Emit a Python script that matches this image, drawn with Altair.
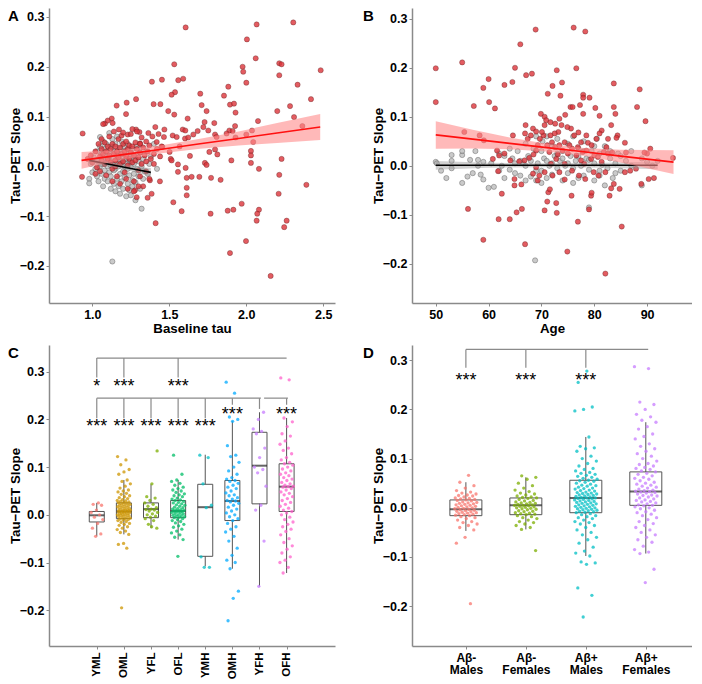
import altair as alt
import pandas as pd

# ---------------- data ----------------
# Panel A: baseline tau vs tau-PET slope
a_red = [
    (0.937, 0.066), (0.933, -0.021), (1.606, 0.279), (2.004, 0.255), (2.067, 0.285), (2.305, 0.289),
    (1.532, 0.205), (2.061, 0.217), (1.976, 0.200), (1.980, 0.190), (2.214, 0.207), (2.229, 0.205),
    (2.483, 0.193), (2.214, 0.183), (2.000, 0.168), (2.333, 0.164), (1.387, 0.170), (1.452, 0.174),
    (1.558, 0.173), (1.590, 0.176), (1.883, 0.160), (1.701, 0.146), (1.537, 0.149), (1.515, 0.144),
    (1.855, 0.142), (2.420, 0.135), (1.284, 0.135), (1.158, 0.122), (1.223, 0.128), (1.398, 0.125),
    (1.442, 0.125), (1.710, 0.123), (1.894, 0.124), (1.920, 0.126), (2.284, 0.121), (1.126, 0.096),
    (1.219, 0.105), (1.493, 0.111), (1.532, 0.104), (1.742, 0.111), (1.930, 0.108), (2.201, 0.111),
    (2.310, 0.099), (1.082, 0.086), (1.132, 0.087), (1.619, 0.096), (1.729, 0.089), (1.792, 0.087),
    (2.076, 0.091), (1.721, 0.079), (1.927, 0.081), (2.364, 0.081), (1.173, 0.074), (1.284, 0.074),
    (1.409, 0.079), (1.468, 0.074), (1.587, 0.074), (1.604, 0.072), (1.684, 0.071), (1.753, 0.072),
    (1.890, 0.072), (1.911, 0.071), (2.037, 0.072), (1.364, 0.067), (1.306, 0.069), (1.230, 0.064),
    (1.656, 0.064), (1.797, 0.064), (1.872, 0.066), (2.000, 0.064), (1.465, 0.059), (1.522, 0.062),
    (1.548, 0.059), (1.602, 0.056), (1.623, 0.058), (1.807, 0.059), (1.930, 0.058), (2.045, 0.049),
    (1.418, 0.049), (1.310, 0.046), (1.455, 0.039), (1.502, 0.029), (1.567, 0.040), (1.760, 0.029),
    (1.797, 0.034), (1.812, 0.024), (2.030, 0.031), (2.030, 0.022), (1.634, 0.021), (1.509, 0.015),
    (1.515, 0.012), (1.731, 0.007), (1.742, 0.003), (1.903, 0.012), (2.030, 0.007), (2.229, 0.015),
    (1.556, 0.004), (1.606, -0.003), (1.556, -0.011), (2.082, -0.005), (2.214, -0.017), (1.613, -0.023),
    (1.645, -0.021), (1.695, -0.021), (1.771, -0.023), (1.833, -0.027), (1.374, -0.028), (1.439, -0.030),
    (1.613, -0.043), (1.613, -0.058), (1.385, -0.055), (1.359, -0.063), (2.210, -0.055), (2.390, -0.037),
    (1.526, -0.072), (1.970, -0.075), (1.580, -0.090), (1.768, -0.095), (1.879, -0.089), (1.916, -0.087),
    (2.082, -0.087), (2.071, -0.095), (2.067, -0.109), (2.262, -0.109), (2.246, -0.122), (1.411, -0.114),
    (1.998, -0.150), (1.894, -0.174), (2.158, -0.220), (1.277, -0.048), (1.288, -0.062),
    (0.97, 0.015), (0.99, 0.022), (1.00, 0.008), (1.02, 0.030), (1.03, -0.002), (1.04, 0.045),
    (1.05, 0.020), (1.05, -0.010), (1.06, 0.035), (1.06, 0.012), (1.07, 0.085), (1.07, 0.025),
    (1.08, 0.005), (1.08, 0.048), (1.09, 0.030), (1.09, -0.018), (1.10, 0.015), (1.10, 0.040),
    (1.11, 0.060), (1.11, 0.022), (1.12, 0.008), (1.12, 0.035), (1.13, 0.045), (1.13, -0.005),
    (1.14, 0.025), (1.14, 0.070), (1.15, 0.012), (1.15, 0.040), (1.16, 0.030), (1.16, -0.020),
    (1.17, 0.055), (1.17, 0.018), (1.18, 0.005), (1.18, 0.038), (1.19, 0.025), (1.19, 0.062),
    (1.20, 0.010), (1.20, 0.045), (1.21, 0.030), (1.21, -0.012), (1.22, 0.020), (1.22, 0.050),
    (1.23, 0.035), (1.23, 0.002), (1.24, 0.042), (1.24, 0.015), (1.25, 0.028), (1.25, 0.065),
    (1.26, 0.008), (1.26, 0.040), (1.27, 0.022), (1.27, -0.030), (1.28, 0.048), (1.28, 0.012),
    (1.29, 0.035), (1.29, 0.070), (1.30, 0.018), (1.30, -0.008), (1.31, 0.045), (1.31, 0.028),
    (1.32, 0.005), (1.32, 0.058), (1.33, 0.038), (1.33, -0.040), (1.34, 0.022), (1.35, 0.050),
    (1.35, 0.010), (1.36, 0.030), (1.37, -0.025), (1.37, 0.042), (1.38, 0.015), (1.39, 0.060),
    (1.40, 0.025), (1.40, 0.005), (1.42, 0.035), (1.43, 0.065), (1.44, 0.020), (1.45, 0.040),
    (1.10, 0.092), (1.20, 0.068), (1.26, 0.075), (1.13, -0.030), (1.18, -0.035), (1.23, -0.045),
    (1.27, -0.050), (1.30, -0.040), (1.02, -0.015), (1.15, 0.000), (1.06, 0.055), (1.22, -0.025),
    (1.31, -0.020), (1.35, -0.010),
]
a_gray = [
    (0.98, -0.025), (0.98, -0.034), (0.99, 0.005), (1.00, -0.012), (1.01, 0.018), (1.02, -0.005),
    (1.03, 0.030), (1.03, -0.020), (1.04, 0.010), (1.04, -0.030), (1.05, 0.059), (1.05, 0.000),
    (1.05, 0.040), (1.06, -0.015), (1.06, 0.025), (1.07, 0.050), (1.07, -0.040), (1.07, 0.005),
    (1.08, 0.035), (1.08, -0.008), (1.08, -0.025), (1.09, 0.015), (1.09, 0.045), (1.10, -0.030),
    (1.10, 0.000), (1.10, 0.028), (1.11, 0.067), (1.11, -0.012), (1.11, 0.012), (1.12, 0.040),
    (1.12, -0.045), (1.12, -0.020), (1.13, 0.055), (1.13, 0.005), (1.13, -0.191), (1.14, 0.030),
    (1.14, -0.035), (1.14, 0.018), (1.15, -0.005), (1.15, 0.045), (1.15, -0.050), (1.16, 0.010),
    (1.16, -0.025), (1.16, 0.060), (1.17, 0.025), (1.17, -0.040), (1.17, 0.000), (1.18, -0.015),
    (1.18, 0.035), (1.18, -0.055), (1.19, 0.008), (1.19, 0.050), (1.19, -0.030), (1.20, 0.020),
    (1.20, -0.010), (1.20, -0.045), (1.21, 0.040), (1.21, 0.000), (1.21, -0.022), (1.22, 0.015),
    (1.22, -0.060), (1.22, 0.030), (1.23, -0.005), (1.23, -0.035), (1.23, 0.045), (1.24, 0.010),
    (1.24, -0.018), (1.24, -0.048), (1.25, 0.025), (1.25, -0.058), (1.25, 0.000), (1.26, -0.028),
    (1.26, 0.035), (1.26, -0.040), (1.27, 0.005), (1.27, -0.015), (1.28, -0.068), (1.28, 0.020),
    (1.28, -0.032), (1.29, -0.005), (1.29, 0.040), (1.30, -0.020), (1.30, 0.010), (1.31, -0.045),
    (1.31, 0.028), (1.32, -0.085), (1.32, 0.000), (1.33, -0.025), (1.33, 0.015), (1.34, -0.010),
    (1.35, 0.030), (1.36, -0.015), (1.37, 0.005), (1.38, 0.020), (1.40, 0.045), (1.42, -0.005),
    (1.12, 0.002), (1.14, -0.008), (1.16, 0.022), (1.18, 0.012), (1.10, 0.015), (1.08, 0.022),
    (1.22, 0.005), (1.25, 0.012), (1.06, 0.005), (1.03, 0.012),
]
a_red_fit_x = [0.93, 1.20, 1.45, 1.70, 1.95, 2.20, 2.48]
a_red_fit = [0.012, 0.0236, 0.0344, 0.0453, 0.0561, 0.0670, 0.0791]
a_red_lo = [-0.005, 0.0136, 0.0264, 0.0353, 0.0421, 0.0470, 0.0531]
a_red_hi = [0.029, 0.0336, 0.0424, 0.0553, 0.0701, 0.0870, 0.1051]
a_gray_fit_x = [0.98, 1.10, 1.20, 1.30, 1.38]
a_gray_fit = [0.012, 0.0048, -0.0012, -0.0072, -0.012]
a_gray_lo = [0.004, -0.0002, -0.0057, -0.0132, -0.021]
a_gray_hi = [0.020, 0.0098, 0.0033, -0.0012, -0.003]

# Panel B: age vs tau-PET slope
b_red = [
    (50.0, 0.199), (50.0, 0.130), (55.0, 0.211), (55.4, 0.069), (56.1, -0.088), (57.2, 0.122),
    (58.3, 0.062), (59.0, 0.159), (59.1, 0.052), (59.0, -0.151), (60.0, 0.177), (60.1, 0.130),
    (61.2, 0.117), (60.8, 0.014), (61.9, -0.109), (62.5, -0.057), (63.0, 0.165), (64.0, -0.109),
    (64.5, 0.171), (65.0, 0.200), (64.6, 0.062), (65.3, -0.095), (66.0, 0.248), (66.3, -0.088),
    (67.1, 0.185), (66.9, -0.160), (68.2, 0.188), (68.9, 0.278), (68.4, 0.076), (67.0, 0.083),
    (69.9, 0.106), (70.6, 0.100), (70.9, 0.093), (71.2, 0.147), (72.1, 0.163), (72.9, 0.195),
    (73.6, 0.143), (73.9, 0.170), (74.5, 0.104), (75.5, 0.120), (75.9, 0.120), (76.1, 0.282),
    (76.6, 0.199), (77.3, 0.124), (77.9, 0.145), (77.9, 0.139), (78.3, 0.274), (77.9, 0.106),
    (79.1, 0.139), (80.2, 0.118), (81.0, 0.102), (81.4, 0.072), (83.2, 0.083), (83.7, 0.168),
    (83.7, 0.120), (84.0, 0.106), (88.1, 0.120), (88.6, 0.156), (89.7, 0.091), (94.9, 0.016),
    (91.3, -0.025), (90.3, -0.027), (88.9, -0.037), (90.0, 0.025), (90.6, 0.035), (85.2, -0.124),
    (82.1, -0.220), (74.9, -0.175), (76.9, -0.114), (79.0, -0.089), (79.4, -0.061), (79.5, -0.055),
    (75.7, -0.061), (71.3, -0.054), (71.1, -0.073), (70.6, -0.091), (72.9, -0.096), (72.8, -0.076),
    (71.6, -0.048), (74.4, -0.028), (69.3, -0.030), (68.4, -0.016), (64.9, -0.027), (64.9, -0.040),
    (66.2, -0.038), (84.8, -0.047), (83.7, -0.037), (85.8, -0.013), (83.2, -0.046), (82.9, -0.061),
    (85.8, 0.047), (86.0, 0.027), (86.8, -0.010), (87.9, -0.006), (89.5, 0.027), (84.4, 0.062),
    (84.2, 0.057), (82.6, 0.055), (82.3, 0.038), (81.8, 0.028), (80.0, 0.021), (78.5, 0.031),
    (78.8, 0.047), (79.5, 0.042), (77.5, 0.048), (77.0, 0.068), (76.2, 0.062), (75.6, 0.076),
    (74.9, 0.079), (73.8, 0.083), (73.2, 0.069), (72.5, 0.066), (71.7, 0.062), (72.0, 0.048),
    (72.6, 0.038), (70.4, 0.062), (70.1, 0.069), (69.7, 0.055), (69.3, 0.042), (69.0, 0.031),
    (68.5, 0.023), (67.7, 0.016), (66.8, 0.011), (65.8, 0.009), (64.1, 0.011), (63.0, 0.025),
    (62.0, 0.021), (61.6, 0.031), (66.9, 0.066), (67.4, 0.055), (71.1, 0.042), (71.5, 0.028),
    (73.1, 0.023), (74.0, 0.031), (75.0, 0.025), (75.8, 0.035), (76.6, 0.021), (77.5, 0.011),
    (78.1, 0.004), (79.4, 0.014), (80.7, 0.018), (81.4, 0.008), (82.6, 0.025), (83.4, 0.027),
    (74.4, 0.004), (73.4, -0.013), (72.1, -0.020), (70.6, -0.013), (75.8, -0.010), (77.1, -0.020),
    (78.3, -0.027), (79.9, -0.013), (80.8, -0.020), (82.1, -0.013), (69.0, -0.003), (69.6, -0.020),
    (71.8, 0.004), (72.8, 0.014), (73.4, 0.042), (74.4, 0.048), (75.3, 0.042), (76.9, 0.038),
    (77.8, 0.028), (80.4, 0.055), (81.0, 0.066), (78.5, 0.062), (70.6, 0.083), (71.7, 0.089),
    (72.6, 0.086), (73.4, 0.096), (68.0, 0.062), (69.0, 0.070), (61.8, -0.011),
]
b_gray = [
    (50.0, 0.008), (50.2, 0.005), (51.0, -0.010), (52.0, -0.025), (53.0, 0.022), (53.0, 0.010),
    (55.0, 0.022), (55.0, 0.030), (55.0, -0.035), (56.5, 0.012), (57.5, 0.030), (57.0, -0.015),
    (58.0, 0.000), (58.5, -0.018), (59.0, 0.008), (59.0, -0.028), (60.0, -0.045), (60.5, 0.005),
    (61.0, -0.043), (62.0, 0.025), (62.5, 0.000), (63.0, 0.020), (64.0, -0.008), (64.5, 0.015),
    (65.0, -0.015), (65.5, 0.030), (66.0, -0.020), (66.5, 0.005), (67.0, -0.030), (67.0, 0.045),
    (67.5, 0.020), (68.0, -0.022), (68.0, 0.010), (68.5, 0.035), (69.0, -0.030), (69.0, 0.060),
    (69.3, 0.005), (70.0, 0.030), (70.0, -0.010), (70.2, 0.050), (70.5, 0.015), (71.0, -0.025),
    (71.0, 0.060), (71.5, 0.000), (72.0, 0.040), (72.0, -0.018), (72.5, 0.020), (73.0, -0.005),
    (73.0, 0.055), (73.5, 0.010), (74.0, -0.030), (74.0, 0.030), (74.5, 0.000), (75.0, 0.045),
    (75.0, -0.015), (75.5, 0.020), (76.0, -0.005), (76.0, 0.060), (76.5, 0.010), (77.0, -0.025),
    (77.0, 0.035), (77.5, 0.000), (78.0, 0.050), (78.0, -0.020), (78.5, 0.015), (79.0, -0.085),
    (79.0, -0.008), (79.5, 0.030), (80.0, -0.030), (80.0, 0.005), (80.5, 0.055), (81.0, -0.010),
    (81.0, 0.025), (81.5, 0.002), (82.0, -0.040), (82.0, 0.040), (82.5, -0.005), (83.0, 0.015),
    (83.5, -0.025), (84.0, 0.005), (84.5, 0.025), (85.0, -0.010), (86.0, 0.010), (87.0, 0.030),
    (89.0, -0.040), (90.0, 0.008), (91.0, 0.000), (92.0, 0.010), (68.8, -0.193), (73.0, 0.025),
    (75.0, 0.005), (77.0, 0.020), (79.0, 0.012), (71.0, 0.010), (69.0, -0.010), (66.0, 0.010),
    (62.0, -0.010), (80.0, 0.040), (83.0, 0.030), (85.0, 0.020), (63.0, -0.025), (58.0, 0.012),
    (53.0, -0.005), (56.0, -0.022), (76.0, -0.035), (74.0, 0.015), (72.0, 0.005), (78.0, 0.030),
    (81.0, -0.020), (70.0, -0.035), (67.0, 0.000), (64.0, 0.035), (84.0, -0.015), (87.0, 0.000),
    (89.0, 0.015), (65.0, 0.005),
]
b_red_fit_x = [50, 57, 64, 71, 78, 85, 95]
b_red_fit = [0.063, 0.0544, 0.0457, 0.0371, 0.0285, 0.0198, 0.0075]
b_red_lo = [0.035, 0.0354, 0.0337, 0.0291, 0.0205, 0.0068, -0.0165]
b_red_hi = [0.091, 0.0734, 0.0577, 0.0451, 0.0365, 0.0328, 0.0315]
b_gray_fit_x = [50, 60, 71, 82, 92]
b_gray_fit = [0.001, 0.001, 0.001, 0.001, 0.001]
b_gray_lo = [-0.008, -0.004, -0.003, -0.004, -0.007]
b_gray_hi = [0.010, 0.006, 0.005, 0.006, 0.009]

# Panel C: groups
c_groups = ["YML", "OML", "YFL", "OFL", "YMH", "OMH", "YFH", "OFH"]
c_colors = ["#F8766D", "#CD9600", "#7CAE00", "#00BE67", "#00BFC4", "#00A9FF", "#C77CFF", "#FF61CC"]
c_values = {
    "YML": [0.025, 0.022, 0.02, 0.01, 0.005, 0.0, -0.005, -0.01, -0.018, -0.028, -0.04, -0.045],
    "OML": [0.122, 0.115, 0.105, 0.095, 0.09, 0.085, 0.073, 0.07, 0.065, 0.06, 0.056, 0.052, 0.05,
            0.048, 0.045, 0.043, 0.04, 0.038, 0.036, 0.034, 0.032, 0.03, 0.029, 0.028, 0.027, 0.026,
            0.025, 0.024, 0.023, 0.022, 0.021, 0.02, 0.019, 0.018, 0.017, 0.016, 0.015, 0.014, 0.013,
            0.012, 0.011, 0.01, 0.01, 0.009, 0.008, 0.008, 0.007, 0.007, 0.006, 0.005, 0.005, 0.004,
            0.003, 0.002, 0.001, 0.0, 0.0, -0.001, -0.002, -0.003, -0.004, -0.005, -0.006, -0.007,
            -0.008, -0.009, -0.01, -0.011, -0.012, -0.014, -0.016, -0.018, -0.02, -0.022, -0.025,
            -0.028, -0.031, -0.034, -0.037, -0.041, -0.06, -0.062, -0.07, -0.195],
    "YFL": [0.134, 0.065, 0.038, 0.035, 0.03, 0.025, 0.022, 0.018, 0.015, 0.012, 0.011, 0.01, 0.008,
            0.005, 0.002, 0.0, -0.003, -0.005, -0.008, -0.012, -0.02, -0.028, -0.025],
    "OFL": [0.125, 0.085, 0.073, 0.07, 0.066, 0.062, 0.058, 0.055, 0.052, 0.05, 0.047, 0.044, 0.042,
            0.04, 0.038, 0.035, 0.033, 0.031, 0.03, 0.028, 0.026, 0.025, 0.023, 0.021, 0.02, 0.018,
            0.016, 0.015, 0.013, 0.012, 0.011, 0.01, 0.009, 0.008, 0.008, 0.007, 0.006, 0.005, 0.004,
            0.003, 0.002, 0.0, -0.001, -0.002, -0.003, -0.004, -0.005, -0.006, -0.008, -0.01, -0.012,
            -0.014, -0.017, -0.02, -0.023, -0.026, -0.03, -0.034, -0.038, -0.042, -0.047, -0.052, -0.087],
    "YMH": [0.125, 0.12, 0.065, 0.02, 0.015, -0.088, -0.11, -0.11],
    "OMH": [0.278, 0.255, 0.205, 0.2, 0.196, 0.145, 0.125, 0.122, 0.11, 0.1, 0.092, 0.085, 0.078,
            0.075, 0.072, 0.07, 0.066, 0.062, 0.058, 0.055, 0.05, 0.046, 0.042, 0.04, 0.036, 0.033,
            0.03, 0.029, 0.027, 0.024, 0.02, 0.016, 0.012, 0.008, 0.004, 0.0, -0.004, -0.008, -0.012,
            -0.018, -0.025, -0.03, -0.036, -0.045, -0.055, -0.07, -0.085, -0.095, -0.1, -0.113,
            -0.16, -0.175, -0.222],
    "YFH": [0.215, 0.2, 0.18, 0.175, 0.17, 0.14, 0.12, 0.1, 0.095, 0.088, 0.06, 0.02, 0.01, -0.055, -0.15],
    "OFH": [0.287, 0.283, 0.203, 0.195, 0.185, 0.17, 0.165, 0.155, 0.148, 0.14, 0.135, 0.128, 0.12,
            0.115, 0.11, 0.107, 0.104, 0.1, 0.096, 0.092, 0.088, 0.085, 0.082, 0.078, 0.075, 0.072,
            0.068, 0.065, 0.062, 0.06, 0.059, 0.058, 0.055, 0.052, 0.048, 0.045, 0.042, 0.038, 0.034,
            0.03, 0.026, 0.022, 0.018, 0.014, 0.01, 0.007, 0.004, 0.0, -0.005, -0.01, -0.015, -0.02,
            -0.025, -0.03, -0.035, -0.042, -0.05, -0.058, -0.065, -0.072, -0.08, -0.088, -0.095,
            -0.1, -0.11, -0.122],
}
c_lo = [-0.045, -0.041, -0.028, -0.052, -0.108, -0.113, -0.150, -0.122]
c_q1 = [-0.015, -0.008, -0.006, -0.006, -0.087, -0.012, 0.023, 0.007]
c_med = [-0.001, 0.007, 0.012, 0.008, 0.016, 0.029, 0.103, 0.059]
c_q3 = [0.007, 0.025, 0.025, 0.030, 0.064, 0.072, 0.173, 0.107]
c_hi = [0.025, 0.073, 0.064, 0.073, 0.126, 0.196, 0.215, 0.203]
c_star_pos = [1, 2, 4, 1, 2, 3, 4, 5, 6, 8]
c_star_y = [0.278, 0.278, 0.278, 0.194, 0.194, 0.194, 0.194, 0.194, 0.219, 0.219]
c_star_txt = ["*", "***", "***", "***", "***", "***", "***", "***", "***", "***"]
c_br_x1 = [1, 1, 2, 4, 1, 7.17, 1, 2, 3, 4, 5, 6, 7, 8]
c_br_x2 = [8, 1, 2, 4, 7.05, 8.05, 1, 2, 3, 4, 5, 6, 7, 8]
c_br_y1 = [0.3285, 0.3285, 0.3285, 0.3285, 0.2446, 0.2446, 0.2446, 0.2446, 0.2446, 0.2446, 0.2446, 0.2446, 0.2446, 0.2446]
c_br_y2 = [0.3285, 0.288, 0.288, 0.288, 0.2446, 0.2446, 0.2027, 0.2027, 0.2027, 0.2027, 0.2027, 0.2307, 0.222, 0.2307]

# Panel D: groups
d_groups = ["Aβ- Males", "Aβ- Females", "Aβ+ Males", "Aβ+ Females"]
d_colors = ["#F8766D", "#7CAE00", "#00BFC4", "#C77CFF"]
d_values = {
    "Aβ- Males": [0.066, 0.052, 0.045, 0.04, 0.035, 0.032, 0.03, 0.028, 0.026, 0.025, 0.024, 0.022,
                  0.02, 0.019, 0.018, 0.017, 0.016, 0.015, 0.014, 0.012, 0.011, 0.01, 0.009, 0.008,
                  0.007, 0.006, 0.005, 0.004, 0.003, 0.002, 0.001, 0.0, -0.001, -0.002, -0.003,
                  -0.004, -0.005, -0.006, -0.007, -0.008, -0.009, -0.01, -0.011, -0.012, -0.013,
                  -0.014, -0.015, -0.016, -0.018, -0.02, -0.022, -0.025, -0.028, -0.03, -0.033,
                  -0.036, -0.04, -0.045, -0.06, -0.072, -0.195],
    "Aβ- Females": [0.065, 0.062, 0.058, 0.05, 0.045, 0.04, 0.036, 0.033, 0.03, 0.028, 0.026, 0.024,
                    0.022, 0.021, 0.02, 0.019, 0.017, 0.015, 0.014, 0.012, 0.011, 0.01, 0.009, 0.008,
                    0.007, 0.006, 0.005, 0.005, 0.004, 0.003, 0.002, 0.001, 0.0, -0.001, -0.002,
                    -0.003, -0.004, -0.006, -0.007, -0.008, -0.01, -0.011, -0.012, -0.013, -0.014,
                    -0.016, -0.018, -0.02, -0.022, -0.025, -0.028, -0.03, -0.033, -0.036, -0.04,
                    -0.044, -0.087],
    "Aβ+ Males": [0.278, 0.255, 0.205, 0.2, 0.197, 0.144, 0.125, 0.122, 0.12, 0.115, 0.105, 0.1,
                  0.095, 0.09, 0.085, 0.08, 0.078, 0.075, 0.072, 0.07, 0.068, 0.066, 0.064, 0.062,
                  0.06, 0.058, 0.056, 0.055, 0.054, 0.052, 0.05, 0.048, 0.046, 0.045, 0.044, 0.042,
                  0.04, 0.039, 0.038, 0.036, 0.035, 0.034, 0.032, 0.031, 0.03, 0.029, 0.028, 0.027,
                  0.026, 0.025, 0.024, 0.023, 0.022, 0.021, 0.02, 0.02, 0.019, 0.018, 0.017, 0.016,
                  0.015, 0.014, 0.013, 0.012, 0.011, 0.01, 0.009, 0.008, 0.007, 0.006, 0.005, 0.004,
                  0.003, 0.002, 0.001, 0.0, -0.001, -0.002, -0.003, -0.004, -0.005, -0.006, -0.007,
                  -0.008, -0.009, -0.01, -0.012, -0.014, -0.016, -0.018, -0.02, -0.022, -0.025,
                  -0.028, -0.03, -0.033, -0.036, -0.04, -0.045, -0.05, -0.055, -0.06, -0.065,
                  -0.072, -0.08, -0.088, -0.092, -0.098, -0.11, -0.112, -0.115, -0.163, -0.178, -0.222],
    "Aβ+ Females": [0.287, 0.283, 0.215, 0.21, 0.2, 0.19, 0.185, 0.178, 0.174, 0.165, 0.16, 0.15,
                    0.145, 0.14, 0.13, 0.125, 0.12, 0.115, 0.11, 0.105, 0.1, 0.095, 0.09, 0.088,
                    0.085, 0.082, 0.08, 0.078, 0.075, 0.073, 0.07, 0.068, 0.065, 0.062, 0.06, 0.058,
                    0.055, 0.052, 0.05, 0.048, 0.046, 0.044, 0.042, 0.04, 0.038, 0.036, 0.035, 0.034,
                    0.033, 0.032, 0.031, 0.03, 0.028, 0.026, 0.025, 0.024, 0.022, 0.02, 0.018, 0.016,
                    0.015, 0.013, 0.012, 0.01, 0.008, 0.006, 0.005, 0.004, 0.002, 0.0, -0.002, -0.005,
                    -0.008, -0.01, -0.013, -0.016, -0.02, -0.024, -0.028, -0.032, -0.036, -0.04,
                    -0.045, -0.05, -0.055, -0.06, -0.065, -0.07, -0.078, -0.085, -0.09, -0.093,
                    -0.125, -0.152],
}
d_lo = [-0.047, -0.044, -0.098, -0.093]
d_q1 = [-0.016, -0.014, -0.010, 0.005]
d_med = [-0.003, 0.005, 0.020, 0.033]
d_q3 = [0.016, 0.020, 0.056, 0.073]
d_hi = [0.052, 0.062, 0.144, 0.174]
d_star_pos = [1, 2, 3]
d_star_y = [0.268, 0.268, 0.268]
d_star_txt = ["***", "***", "***"]
d_br_x1 = [1, 1, 2, 3]
d_br_x2 = [4.04, 1, 2, 3]
d_br_y1 = [0.322, 0.322, 0.322, 0.322]
d_br_y2 = [0.322, 0.2846, 0.2846, 0.2846]

# ---------------- styling ----------------
FONT = "Liberation Sans"
AXC = "#8a8a8a"
TITLE = "Tau\u2212PET Slope"
YTICKS = [-0.2, -0.1, 0.0, 0.1, 0.2, 0.3]


def y_axis():
    return alt.Axis(values=YTICKS, format=".1f", title=TITLE, minExtent=26, maxExtent=26,
                    titlePadding=1, labelFlush=False)


def letter_layer(letter, dx):
    return alt.Chart(pd.DataFrame({"t": [letter]})).mark_text(
        align="left", baseline="top", font=FONT, fontSize=15, fontWeight="bold", color="black"
    ).encode(x=alt.value(dx), y=alt.value(1), text="t:N")


def scatter_panel(red, gray, rfit, gfit, xdom, ydom, xticks, xfmt, xtitle, letter, ldx, w, h):
    dr = pd.DataFrame(red, columns=["x", "y"])
    dg = pd.DataFrame(gray, columns=["x", "y"])
    fr = pd.DataFrame({"x": rfit[0], "fit": rfit[1], "lo": rfit[2], "hi": rfit[3]})
    fg = pd.DataFrame({"x": gfit[0], "fit": gfit[1], "lo": gfit[2], "hi": gfit[3]})
    xs = alt.Scale(domain=xdom, nice=False, zero=False)
    ys = alt.Scale(domain=ydom, nice=False, zero=False)
    xax = alt.Axis(values=xticks, format=xfmt, title=xtitle, labelFlush=False, titlePadding=1)

    def X(f):
        return alt.X(f, type="quantitative", scale=xs, axis=xax)

    def Y(f):
        return alt.Y(f, type="quantitative", scale=ys, axis=y_axis())

    gpts = alt.Chart(dg).mark_circle(size=27, fill="#b8b8b8", stroke="#555555", strokeWidth=0.6,
                                     fillOpacity=0.75, strokeOpacity=0.7).encode(x=X("x"), y=Y("y"))
    rpts = alt.Chart(dr).mark_circle(size=27, fill="#dc3339", stroke="#5a1f1f", strokeWidth=0.6,
                                     fillOpacity=0.8, strokeOpacity=0.6).encode(x=X("x"), y=Y("y"))
    grib = alt.Chart(fg).mark_area(color="#9a9a9a", opacity=0.45).encode(x=X("x"), y=Y("lo"), y2="hi")
    gline = alt.Chart(fg).mark_line(color="black", strokeWidth=1.6).encode(x=X("x"), y=Y("fit"))
    rrib = alt.Chart(fr).mark_area(color="#ff8a8a", opacity=0.6).encode(x=X("x"), y=Y("lo"), y2="hi")
    rline = alt.Chart(fr).mark_line(color="#ff1010", strokeWidth=1.6).encode(x=X("x"), y=Y("fit"))
    return alt.layer(gpts, rpts, grib, gline, rrib, rline, letter_layer(letter, ldx)).properties(
        width=w, height=h)


def box_panel(groups, colors, values, stats, stars, brackets, xdom, ydom, jw, boxw, labelexpr,
              xaxis_extra, letter, ldx, w, h):
    cf = "grp_" + letter
    rows = []
    for i, g in enumerate(groups):
        for v in values[g]:
            rows.append({"g": i + 1, cf: g, "y": v})
    dp = pd.DataFrame(rows)
    ds = pd.DataFrame({"g": list(range(1, len(groups) + 1)), "lo": stats[0], "q1": stats[1],
                       "med": stats[2], "q3": stats[3], "hi": stats[4]})
    dst = pd.DataFrame({"x": stars[0], "y": stars[1], "t": stars[2]})
    dbr = pd.DataFrame({"x1": brackets[0], "x2": brackets[1], "y1": brackets[2], "y2": brackets[3]})
    xs = alt.Scale(domain=xdom, nice=False, zero=False)
    ys = alt.Scale(domain=ydom, nice=False, zero=False)
    xax = alt.Axis(values=list(range(1, len(groups) + 1)), labelExpr=labelexpr, title=None,
                   labelFlush=False, **xaxis_extra)

    def X(f):
        return alt.X(f, type="quantitative", scale=xs, axis=xax)

    def Y(f):
        return alt.Y(f, type="quantitative", scale=ys, axis=y_axis())

    whisk = alt.Chart(ds).mark_rule(color="#555555", strokeWidth=1).encode(x=X("g"), y=Y("lo"), y2="hi")
    box = alt.Chart(ds).mark_bar(size=boxw, fill="white", stroke="#555555", strokeWidth=1).encode(
        x=X("g"), y=Y("q1"), y2="q3")
    med = alt.Chart(ds).mark_tick(orient="horizontal", size=boxw, thickness=2, color="#222222").encode(
        x=X("g"), y=Y("med"))
    pts = alt.Chart(dp).transform_window(rn="row_number()").transform_calculate(
        jx=f"datum.g + ((datum.rn * 0.6180339887) % 1 - 0.5) * {jw}"
    ).mark_circle(size=11, opacity=0.75).encode(
        x=X("jx"), y=Y("y"),
        color=alt.Color(f"{cf}:N", scale=alt.Scale(domain=groups, range=colors), legend=None))
    br = alt.Chart(dbr).mark_rule(color="#8a8a8a", strokeWidth=1.2).encode(
        x=X("x1"), x2="x2", y=Y("y1"), y2="y2")
    st = alt.Chart(dst).mark_text(font=FONT, fontSize=18, baseline="alphabetic", dy=10,
                                  color="black").encode(x=X("x"), y=Y("y"), text="t:N")
    return alt.layer(whisk, box, med, pts, br, st, letter_layer(letter, ldx)).properties(
        width=w, height=h)


panel_a = scatter_panel(
    a_red, a_gray,
    (a_red_fit_x, a_red_fit, a_red_lo, a_red_hi),
    (a_gray_fit_x, a_gray_fit, a_gray_lo, a_gray_hi),
    [0.7186, 2.576], [-0.2743, 0.318], [1.0, 1.5, 2.0, 2.5], ".1f", "Baseline tau", "A", -41, 286, 295)

panel_b = scatter_panel(
    b_red, b_gray,
    (b_red_fit_x, b_red_fit, b_red_lo, b_red_hi),
    (b_gray_fit_x, b_gray_fit, b_gray_lo, b_gray_hi),
    [45.5, 98.5], [-0.280, 0.322], [50, 60, 70, 80, 90], "d", "Age", "B", -49, 280, 295)

c_expr = "[" + ",".join(f"'{g}'" for g in c_groups) + "][datum.value - 1]"
panel_c = box_panel(
    c_groups, c_colors, c_values, (c_lo, c_q1, c_med, c_q3, c_hi),
    (c_star_pos, c_star_y, c_star_txt), (c_br_x1, c_br_x2, c_br_y1, c_br_y2),
    [-0.577, 9.60], [-0.275, 0.356], 0.5, 15, c_expr,
    dict(labelAngle=270, labelFontSize=11.5, labelPadding=3), "C", -41, 286, 301)

d_expr = "[['A\u03b2-','Males'],['A\u03b2-','Females'],['A\u03b2+','Males'],['A\u03b2+','Females']][datum.value - 1]"
panel_d = box_panel(
    d_groups, d_colors, d_values, (d_lo, d_q1, d_med, d_q3, d_hi),
    (d_star_pos, d_star_y, d_star_txt), (d_br_x1, d_br_x2, d_br_y1, d_br_y2),
    [0.185, 4.687], [-0.281, 0.331], 0.38, 32, d_expr,
    dict(labelFontSize=12, labelPadding=3, labelLineHeight=12.5), "D", -49, 280, 301)

chart = alt.concat(
    panel_a, panel_b, panel_c, panel_d, columns=2, bounds="flush",
    spacing=alt.RowColnumber(row=42, column=77)
).resolve_scale(color="independent").properties(
    padding={"left": 0, "top": 0, "right": 0, "bottom": 0}
).configure_view(stroke=None).configure_axis(
    grid=False, domainColor=AXC, domainWidth=1.5, tickColor=AXC, tickWidth=1, tickSize=3,
    labelFont=FONT, labelFontWeight="bold", labelFontSize=12.5, labelColor="black", labelPadding=2,
    titleFont=FONT, titleFontWeight="bold", titleFontSize=13.3, titleColor="black"
)

chart.save("out.html", embed_options={"renderer": "svg", "actions": False})
